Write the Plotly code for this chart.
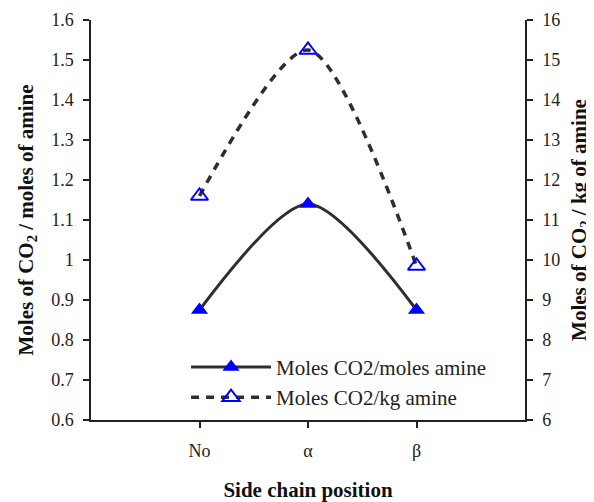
import plotly.graph_objects as go

categories = ["No", "α", "β"]
moles_per_mole = [0.875, 1.14, 0.875]
moles_per_kg = [11.6, 15.25, 9.85]
left_ticks = [0.6, 0.7, 0.8, 0.9, 1.0, 1.1, 1.2, 1.3, 1.4, 1.5, 1.6]
left_tick_labels = ["0.6", "0.7", "0.8", "0.9", "1", "1.1", "1.2", "1.3", "1.4", "1.5", "1.6"]

FONT = "Liberation Serif"
x_pos = [0, 1, 2]

fig = go.Figure()
fig.add_trace(go.Scatter(
    x=x_pos, y=moles_per_mole, name="Moles CO2/moles amine",
    mode="lines+markers", line=dict(color="#2e2e2e", width=3, shape="spline", smoothing=0.8),
    marker=dict(symbol="triangle-up", size=15, color="#0000ff"),
    yaxis="y"))
fig.add_trace(go.Scatter(
    x=x_pos, y=moles_per_kg, name="Moles CO2/kg amine",
    mode="lines+markers", line=dict(color="#2e2e2e", width=3.5, shape="spline", smoothing=0.8, dash="8px,7px"),
    marker=dict(symbol="triangle-up-open", size=15, color="#0000ff", line=dict(width=2, color="#0000ff")),
    yaxis="y2"))

axis_common = dict(showgrid=False, zeroline=False, showline=True, linecolor="#222", linewidth=1.5,
                   ticks="outside", ticklen=6, tickcolor="#222", tickwidth=1.5, automargin=False,
                   tickfont=dict(family=FONT, size=18, color="#222"))

fig.update_layout(
    width=586, height=494,
    margin=dict(l=83, r=69, t=12, b=82),
    paper_bgcolor="white", plot_bgcolor="white",
    font=dict(family=FONT, color="#222"),
    xaxis=dict(**axis_common, range=[-1, 3], tickvals=x_pos, ticktext=categories, ticklabelstandoff=8,
               title=dict(text="<b>Side chain position</b>", font=dict(family=FONT, size=21, color="#111"), standoff=22)),
    yaxis=dict(**axis_common, range=[0.6, 1.6], tickvals=left_ticks, ticktext=left_tick_labels, ticklabelstandoff=6,
               title=dict(text="<b>Moles of CO<sub>2</sub> / moles of amine</b>", font=dict(family=FONT, size=21, color="#111"), standoff=12)),
    yaxis2=dict(**axis_common, range=[6, 16], dtick=1, overlaying="y", side="right", ticklabelstandoff=6,
                title=dict(text="<b>Moles of CO<sub>2</sub> / kg of amine</b>", font=dict(family=FONT, size=21, color="#111"), standoff=12)),
    showlegend=True,
    legend=dict(x=0.219, y=0.183, xanchor="left", yanchor="top", bgcolor="rgba(0,0,0,0)",
                font=dict(family=FONT, size=21, color="#222"), itemwidth=80),
)
fig.write_html("out.html")
